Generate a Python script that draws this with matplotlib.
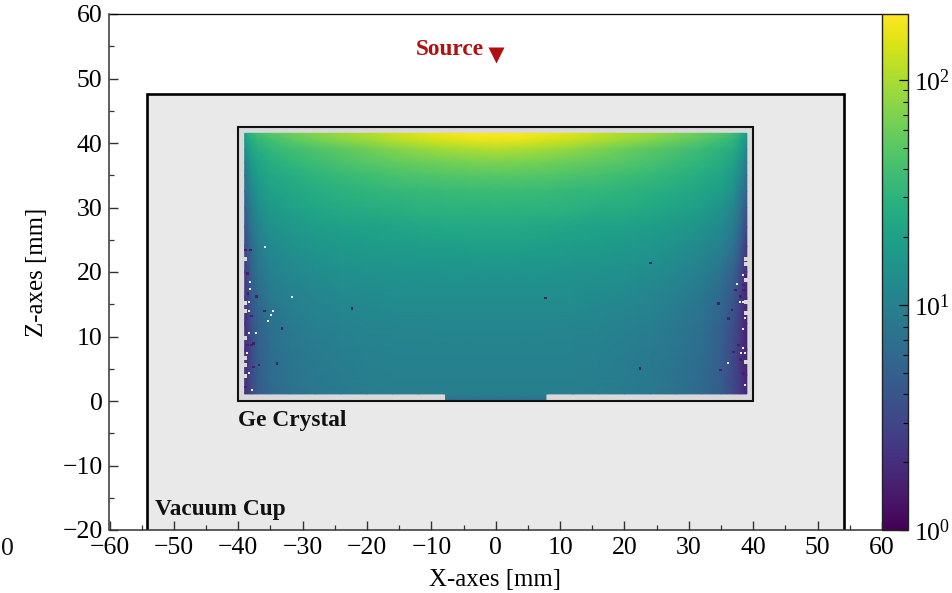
import numpy as np
import matplotlib
matplotlib.use("Agg")
import matplotlib.pyplot as plt
from matplotlib.colors import LogNorm
from matplotlib.patches import Rectangle
from matplotlib.ticker import MultipleLocator

plt.rcParams['font.family'] = ['Liberation Serif', 'DejaVu Serif']
plt.rcParams['mathtext.fontset'] = 'stix'
plt.rcParams['mathtext.default'] = 'regular'

x_nodes = [-39, -38, -37, -35, -32, -28, -24, -20, -16, -12, -8, -4, 0,
           4, 8, 12, 16, 20, 24, 28, 32, 35, 37, 38, 39]
z_nodes = [41.5, 40.5, 39, 37, 35, 32.5, 30, 27, 24, 20, 16, 12, 8, 4, 1.1]

# counts read at each (z, x) node
counts = [
 [22, 32, 40, 50, 60, 75, 90, 105, 125, 150, 175, 190, 196, 190, 172, 148, 122, 102, 88, 72, 58, 48, 38, 28, 18],
 [18, 26, 33, 40, 50, 62, 76, 90, 108, 128, 145, 160, 165, 160, 143, 125, 105, 88, 74, 60, 48, 38, 31, 23, 15],
 [14, 22, 27, 32, 38, 45, 52, 60, 70, 82, 92, 100, 105, 100, 90, 80, 68, 58, 50, 43, 36, 30, 25, 19, 11],
 [10, 17, 22, 27, 32, 37, 43, 49, 54, 59, 63, 66, 68, 66, 62, 58, 53, 48, 42, 36, 31, 26, 21, 15, 9],
 [8, 14, 19, 23, 27, 31, 35, 39, 42, 45, 47, 49, 50, 49, 47, 44, 41, 38, 34, 30, 26, 22, 17, 12, 7],
 [6.5, 11, 16, 20, 23, 26, 29, 31, 33, 34, 35, 36, 36, 36, 35, 33, 32, 30, 28, 25, 22, 19, 14, 9, 5.5],
 [5, 9, 13, 17, 20, 23, 25, 27, 28, 29, 30, 30, 31, 30, 30, 29, 27, 26, 24, 22, 19, 15, 11, 7.5, 4],
 [4, 7.5, 10.5, 14, 16.5, 19, 20, 21, 22, 23, 24, 24, 24, 24, 23, 22, 21, 20, 19, 17, 15, 12, 9, 6, 3],
 [3.2, 6, 9, 12, 14, 16, 17, 18, 18.5, 19, 19, 19.5, 19.5, 19.5, 19, 18.5, 18, 17, 16, 14, 12, 10, 7, 4.5, 2.4],
 [2.5, 5, 7.5, 10, 11.5, 13, 14, 14.5, 15, 15, 15.5, 15.5, 15.5, 15.5, 15.5, 15, 14.5, 14, 13, 11.5, 9.5, 7.5, 5, 3.3, 1.9],
 [2.2, 4.2, 6, 8.5, 10, 11, 12, 12.5, 13, 13, 13, 13, 13, 13, 13, 13, 12.5, 12, 11, 9.5, 8, 6, 4, 2.8, 1.7],
 [2, 3.6, 5.2, 7.2, 8.6, 9.8, 10.5, 11, 11.2, 11.3, 11.4, 11.5, 11.5, 11.5, 11.4, 11.2, 11, 10.2, 9.5, 8.3, 7, 5.2, 3.5, 2.5, 1.6],
 [1.9, 3.2, 4.8, 6.5, 8, 9, 9.6, 10, 10.2, 10.3, 10.3, 10.4, 10.4, 10.4, 10.3, 10.2, 10, 9.4, 8.8, 7.8, 6.4, 4.8, 3.2, 2.3, 1.6],
 [1.9, 3.2, 4.6, 6.2, 7.5, 8.5, 9, 9.5, 9.7, 9.8, 9.8, 9.8, 9.8, 9.8, 9.8, 9.7, 9.5, 9, 8.5, 7.5, 6.2, 4.6, 3.1, 2.3, 1.7],
 [2.0, 3.3, 4.6, 6, 7.2, 8.2, 8.8, 9.2, 9.5, 9.6, 9.6, 9.6, 9.6, 9.6, 9.6, 9.6, 9.2, 8.8, 8.2, 7.2, 6, 4.6, 3.2, 2.4, 1.8],
]

# well below the crystal body
notch_x = [-7.8, -4, 0, 4, 7.8]
notch_z = [1.1, 0]
notch_counts = [[9.6, 9.6, 9.6, 9.6, 9.6], [7, 7, 7, 7, 7]]

# individual low-count cells
dark_x = [-38.9, -38.1, -38.6, -38.5, -37.2, -37.9, -35.9, -33.2, -38.6, -37.9, -37.6, -37.6, -36.8, -34.0, -38.9,
          34.6, 36.7, 36.2, 38.5, 37.2, 38.0, 38.7, 38.5, 37.7, 38.0, 36.9, 34.9, 38.5, 24.0, 7.7, -22.3, 22.4]
dark_z = [23.4, 23.4, 19.8, 16.7, 16.2, 13.2, 13.95, 11.2, 8.7, 8.7, 8.9, 5.3, 5.6, 5.8, 2.2,
          15.1, 14.1, 12.8, 17.2, 17.2, 16.2, 19.3, 4.3, 8.7, 6.4, 7.6, 4.8, 18.0, 21.4, 16.0, 14.3, 5.0]
dark_counts = [1.5] * len(dark_x)

# empty cells
empty_x = [-35.9, -38.2, -38.2, -31.6, -38.4, -38.4, -34.6, -34.9, -35.4, -38.4, -37.2, -38.7, -38.4, -37.9,
           38.4, 37.4, 38.0, 38.4, 38.7, 38.4, 38.4, 38.1, 38.7, 36.05, 38.7]
empty_z = [23.9, 18.4, 17.4, 16.2, 15.4, 13.9, 13.9, 13.4, 12.4, 10.6, 10.6, 7.4, 4.4, 1.65,
           19.6, 18.2, 15.4, 15.4, 12.8, 11.2, 8.2, 7.4, 7.4, 5.9, 2.5]
edge_x = [-38.9, -38.9, -38.9, -38.9, -38.9, -38.9, -38.9,
          38.9, 38.9, 38.9, 38.9, 38.9, 38.9]
edge_z = [22.0, 15.2, 13.9, 9.7, 6.6, 5.6, 3.9,
          22.0, 21.3, 18.8, 15.4, 13.7, 6.1]

W, H = 953, 593
fig = plt.figure(figsize=(W / 100, H / 100), dpi=100)
ax = fig.add_axes([109.5 / W, (H - 530) / H, (882 - 109.5) / W, 516 / H])
cax = fig.add_axes([882 / W, (H - 530) / H, 26 / W, 516 / H])

FS = 18.5
FS_BOLD = 16.8
DARK = '#333333'
cmap = plt.get_cmap('viridis')
norm = LogNorm(vmin=1, vmax=196)

ax.add_patch(Rectangle((-54.1, -25), 108.2, 72.6, fc='#E9E9E9', ec='black', lw=1.9, zorder=1))
ax.add_patch(Rectangle((-40, 0), 80, 42.5, fc='#D9D9D9', ec='none', zorder=2))

X, Z = np.meshgrid(x_nodes, z_nodes)
mesh = ax.pcolormesh(X, Z, np.array(counts, dtype=float), cmap=cmap, norm=norm,
                     shading='gouraud', zorder=3, rasterized=True)
NX, NZ = np.meshgrid(notch_x, notch_z)
ax.pcolormesh(NX, NZ, np.array(notch_counts, dtype=float), cmap=cmap, norm=norm,
              shading='gouraud', zorder=3)

ax.scatter(dark_x, dark_z, c=dark_counts, cmap=cmap, norm=norm, marker='s', s=3.5, linewidths=0, zorder=4)
ax.scatter(empty_x, empty_z, c='#F4F4F4', marker='s', s=4, linewidths=0, zorder=4)
ax.scatter(edge_x, edge_z, c='#D9D9D9', marker='s', s=5, linewidths=0, zorder=4)

ax.add_patch(Rectangle((-40, 0), 80, 42.5, fc='none', ec='#111111', lw=1.5, zorder=5))

ax.plot([0], [53.6], marker='v', ms=11.2, color='#B01010', mec='none', ls='none', zorder=6)
ax.text(-1.9, 54.5, 'Source', color='#B01010', fontweight='bold', fontsize=FS_BOLD, ha='right', va='center', zorder=6)
ax.text(-40, -3.1, 'Ge Crystal', color='#111111', fontweight='bold', fontsize=FS_BOLD, ha='left', va='center', zorder=6)
ax.text(-53, -16.8, 'Vacuum Cup', color='#111111', fontweight='bold', fontsize=FS_BOLD, ha='left', va='center', zorder=6)

ax.set_xlim(-60, 60)
ax.set_ylim(-20, 60)
ax.xaxis.set_major_locator(MultipleLocator(10))
ax.xaxis.set_minor_locator(MultipleLocator(5))
ax.yaxis.set_major_locator(MultipleLocator(10))
ax.yaxis.set_minor_locator(MultipleLocator(5))
ax.tick_params(which='major', direction='in', length=6.5, width=1.0, color=DARK, labelsize=FS,
               bottom=True, left=True, top=False, right=False, pad=5)
ax.tick_params(which='minor', direction='in', length=3.5, width=0.9, color=DARK,
               bottom=True, left=True, top=False, right=False)
for side, spine in ax.spines.items():
    spine.set_linewidth(1.1)
    spine.set_color(DARK)
    spine.set_zorder(7)
ax.spines['top'].set_color('black')
ax.spines['top'].set_linewidth(0.9)
ax.spines['right'].set_visible(False)

ax.set_xlabel('X-axes [mm]', fontsize=17.9)
ax.set_ylabel('Z-axes [mm]', fontsize=17.9)
ax.xaxis.set_label_coords((495.5 - 109.5) / 772.5, -(580 - 530) / 516, transform=ax.transAxes)
ax.xaxis.label.set_va('center')
ax.yaxis.set_label_coords(-(109.5 - 37) / 772.5, (530 - 272) / 516, transform=ax.transAxes)
ax.yaxis.label.set_va('center')

cb = fig.colorbar(mesh, cax=cax)
cb.outline.set_linewidth(1.0)
cb.outline.set_edgecolor('#222222')
cax.tick_params(which='major', direction='in', length=6.5, width=0.9, color='black', labelsize=FS, right=True, pad=4)
cax.tick_params(which='minor', direction='in', length=3.5, width=0.8, color='black', right=True)

# stray label at the left edge of the source picture
fig.text(14 / W, 1 - 549 / H, '0', fontsize=FS, ha='right', va='center', color='#111111')

fig.savefig('out.png', dpi=100)
